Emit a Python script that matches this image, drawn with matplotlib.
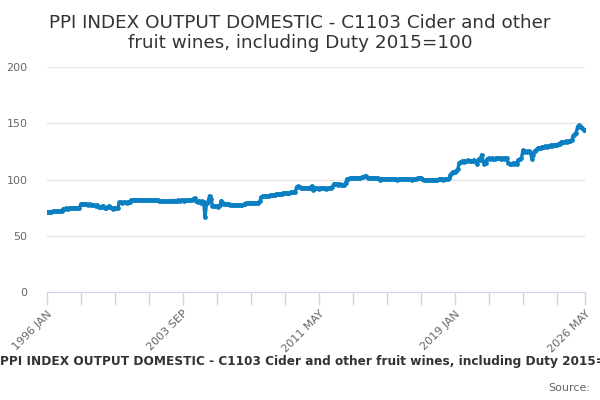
import matplotlib
matplotlib.use('Agg')
import matplotlib.pyplot as plt

title = 'PPI INDEX OUTPUT DOMESTIC - C1103 Cider and other\nfruit wines, including Duty 2015=100'
caption = 'PPI INDEX OUTPUT DOMESTIC - C1103 Cider and other fruit wines, including Duty 2015=100'

months = ['JAN', 'FEB', 'MAR', 'APR', 'MAY', 'JUN', 'JUL', 'AUG', 'SEP', 'OCT', 'NOV', 'DEC']

# monthly index values, 1996 JAN .. 2026 MAY
v1996 = [71.2, 71.4, 71.5, 71.5, 71.6, 71.6, 71.7, 71.7, 71.8, 71.6, 71.9, 73.9]
v1997 = [74.1, 74.3, 74.2, 74.4, 74.5, 74.3, 74.6, 74.7, 74.5, 74.8, 75.0, 78.2]
v1998 = [78.5, 78.3, 78.0, 77.8, 77.5, 77.9, 77.2, 77.6, 77.0, 76.6, 77.2, 76.0]
v1999 = [75.2, 75.8, 76.8, 75.0, 74.6, 75.6, 76.4, 75.2, 74.8, 74.2, 75.0, 74.8]
v2000 = [74.6, 79.6, 79.8, 79.4, 79.6, 79.8, 79.5, 79.8, 80.2, 81.8, 82.0, 81.9]
v2001 = [81.8, 81.9, 81.7, 81.8, 81.8, 81.7, 81.6, 81.7, 81.6, 81.5, 81.6, 81.5]
v2002 = [81.5, 81.4, 81.5, 81.4, 81.3, 81.2, 81.0, 80.8, 80.6, 80.5, 80.8, 81.0]
v2003 = [81.2, 81.3, 81.2, 81.3, 81.2, 81.4, 81.3, 81.4, 81.5, 81.3, 81.5, 81.4]
v2004 = [81.5, 81.6, 81.8, 82.5, 83.5, 81.0, 80.2, 80.8, 79.5, 80.6, 80.0, 66.5]
v2005 = [79.0, 80.2, 85.5, 83.0, 76.5, 76.8, 76.2, 76.6, 76.0, 77.0, 81.2, 79.0]
v2006 = [78.5, 78.2, 78.0, 77.8, 77.6, 77.4, 77.3, 77.2, 77.1, 77.2, 77.3, 77.4]
v2007 = [77.6, 77.8, 78.2, 78.8, 79.0, 79.0, 79.1, 79.0, 79.2, 79.3, 79.2, 79.5]
v2008 = [80.5, 84.5, 85.2, 85.4, 85.3, 85.6, 85.5, 85.8, 86.0, 85.9, 86.4, 86.8]
v2009 = [86.8, 87.0, 87.2, 87.5, 88.0, 87.8, 88.2, 88.4, 88.3, 88.6, 88.8, 89.0]
v2010 = [89.2, 93.6, 93.8, 93.2, 92.6, 92.4, 92.8, 92.5, 92.2, 92.6, 92.8, 94.0]
v2011 = [91.0, 92.0, 92.4, 92.2, 92.0, 92.3, 92.1, 92.5, 92.3, 92.0, 92.4, 92.2]
v2012 = [92.3, 93.5, 95.8, 95.6, 95.8, 95.5, 96.0, 95.2, 95.0, 95.4, 96.8, 100.4]
v2013 = [100.8, 101.2, 101.0, 101.4, 101.2, 101.5, 101.3, 101.6, 101.4, 101.8, 102.6, 103.0]
v2014 = [102.8, 101.6, 101.5, 101.7, 101.4, 101.6, 101.5, 101.3, 100.9, 100.0, 100.3, 100.2]
v2015 = [100.3, 100.5, 100.4, 100.2, 100.5, 100.3, 100.1, 100.4, 100.2, 100.0, 100.3, 100.2]
v2016 = [100.4, 100.2, 100.1, 100.3, 100.5, 100.2, 100.4, 100.0, 100.3, 100.6, 100.8, 101.2]
v2017 = [101.5, 101.6, 100.8, 99.8, 99.6, 99.9, 99.5, 99.8, 99.6, 99.7, 99.5, 99.9]
v2018 = [99.8, 100.1, 100.3, 100.2, 100.0, 100.4, 100.3, 100.1, 101.0, 104.2, 106.0, 107.0]
v2019 = [107.0, 107.8, 109.5, 115.0, 115.8, 116.2, 116.0, 116.8, 116.4, 117.0, 116.2, 116.8]
v2020 = [116.5, 117.2, 116.0, 114.2, 118.0, 117.5, 121.8, 116.5, 114.2, 114.5, 118.2, 118.8]
v2021 = [118.5, 119.0, 118.6, 118.2, 119.4, 118.8, 119.2, 118.5, 119.0, 118.6, 119.2, 118.8]
v2022 = [115.0, 114.2, 113.8, 114.6, 114.0, 114.8, 114.2, 117.5, 118.0, 119.0, 125.8, 124.5]
v2023 = [125.0, 124.2, 125.5, 124.8, 118.5, 122.0, 125.6, 126.2, 127.8, 128.4, 128.0, 129.0]
v2024 = [128.6, 129.4, 129.0, 129.8, 130.2, 130.6, 130.0, 130.8, 131.0, 130.4, 131.2, 132.0]
v2025 = [133.0, 133.6, 133.2, 134.0, 133.5, 134.2, 133.8, 135.0, 139.0, 140.5, 141.5, 147.0]
v2026 = [148.2, 146.8, 145.5, 144.2, 143.8]

yearly = [v1996, v1997, v1998, v1999, v2000, v2001, v2002, v2003, v2004, v2005,
          v2006, v2007, v2008, v2009, v2010, v2011, v2012, v2013, v2014, v2015,
          v2016, v2017, v2018, v2019, v2020, v2021, v2022, v2023, v2024, v2025, v2026]

values = []
labels = []
for i, vals in enumerate(yearly):
    for m, v in enumerate(vals):
        values.append(v)
        labels.append(f'{1996 + i} {months[m]}')

x = list(range(len(values)))
y_ticks = [0, 50, 100, 150, 200]

fig = plt.figure(figsize=(6, 4), dpi=100)
ax = fig.add_axes([46.9 / 600, 1 - 292 / 400, (585 - 46.9) / 600, 225 / 400])

ax.plot(x, values, color='#0a7fc2', linewidth=2.4, marker='o', markersize=2.4,
        solid_joinstyle='round', zorder=3)

ax.set_xlim(0, len(values) - 1)
ax.set_ylim(0, 200)
ax.set_yticks(y_ticks)
ax.grid(axis='y', color='#e6e6e6', linewidth=1)
ax.set_axisbelow(True)

# a tick every 23 months plus the last month, label on every fourth tick
last = len(values) - 1
tick_pos = list(range(0, len(values), 23))
if tick_pos[-1] != last:
    tick_pos.append(last)
tick_lab = [labels[p] if (k % 4 == 0 or p == last) else '' for k, p in enumerate(tick_pos)]
ax.set_xticks(tick_pos)
ax.set_xticklabels(tick_lab, rotation=45, ha='right', rotation_mode='anchor')

for s in ['top', 'right', 'left']:
    ax.spines[s].set_visible(False)
ax.spines['bottom'].set_color('#ccd6eb')
ax.tick_params(axis='x', colors='#ccd6eb', length=9, width=1, labelcolor='#666666', labelsize=8, pad=3)
ax.tick_params(axis='y', length=0, labelcolor='#666666', labelsize=8, pad=14)

fig.text(0.5, 1 - 33 / 400, title, ha='center', va='center', fontsize=13.2,
         color='#333333', linespacing=1.2)
fig.text(316 / 600, 1 - 362 / 400, caption, ha='center', va='center', fontsize=8.7,
         fontweight='bold', color='#333333')
fig.text(590 / 600, 1 - 388 / 400, 'Source:', ha='right', va='center', fontsize=8, color='#666666')

fig.savefig('out.png', dpi=100)
